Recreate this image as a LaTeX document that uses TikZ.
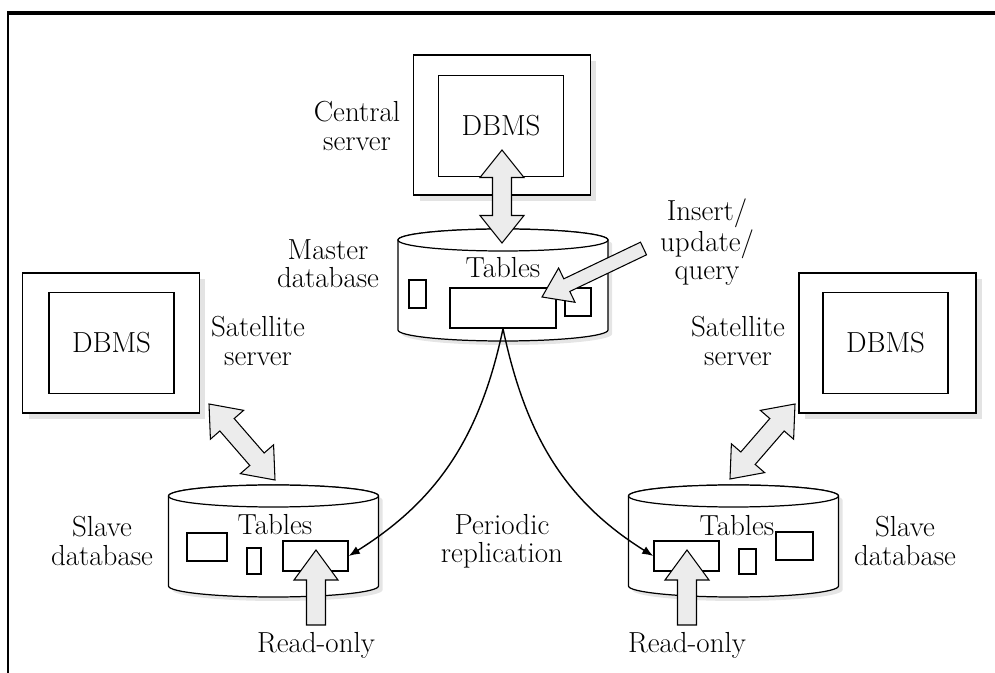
\documentclass[tikz,border=0pt]{standalone}
\usetikzlibrary{calc,arrows.meta,shadows}

\tikzset{
  srvbox/.style={draw, line width=1pt, fill=white, inner sep=0pt,
    minimum width=3.54cm, minimum height=2.80cm,
    drop shadow={shadow xshift=0.12cm, shadow yshift=-0.12cm, fill=gray!22, opacity=1}},
  dbmsbox/.style={draw, line width=1pt, fill=white, inner sep=0pt,
    minimum width=2.50cm, minimum height=2.02cm},
  tbl/.style={draw, line width=0.9pt, fill=white, inner sep=0pt},
  lbl/.style={align=center, inner sep=0pt},
  blockarrow/.style={draw=black, fill=gray!15, line width=0.6pt, line join=miter},
  cylline/.style={draw=black, line width=0.7pt, fill=white},
}

% database drum, top face centre at (#1,#2)
\newcommand{\dbcyl}[2]{%
  \begin{scope}[shift={(#1,#2)}]
    \fill [gray!20, shift={(4,-4)}] (-105,0) -- (-105,-90)
      arc[start angle=180, end angle=360, x radius=105, y radius=11] -- (105,0)
      arc[start angle=0, end angle=180, x radius=105, y radius=11] -- cycle;
    \draw [cylline] (-105,0) -- (-105,-90)
      arc[start angle=180, end angle=360, x radius=105, y radius=11] -- (105,0)
      arc[start angle=0, end angle=180, x radius=105, y radius=11] -- cycle;
    \draw [cylline] (0,0) ellipse[x radius=105, y radius=11];
  \end{scope}}

% fat arrow with two heads: tips #1 #2, head length #3, head half width #4, shaft half width #5
\newcommand{\dblarrow}[5]{%
  \filldraw [blockarrow] (#1) -- ($(#1)!#3!(#2)!#4!90:(#2)$) -- ($(#1)!#3!(#2)!#5!90:(#2)$)
    -- ($(#2)!#3!(#1)!#5!-90:(#1)$) -- ($(#2)!#3!(#1)!#4!-90:(#1)$) -- (#2)
    -- ($(#2)!#3!(#1)!#4!90:(#1)$) -- ($(#2)!#3!(#1)!#5!90:(#1)$)
    -- ($(#1)!#3!(#2)!#5!-90:(#2)$) -- ($(#1)!#3!(#2)!#4!-90:(#2)$) -- cycle;}

% fat arrow with one head: tail #1, tip #2
\newcommand{\sglarrow}[5]{%
  \filldraw [blockarrow] (#2) -- ($(#2)!#3!(#1)!#4!-90:(#1)$) -- ($(#2)!#3!(#1)!#5!-90:(#1)$)
    -- ($(#1)!#5!90:(#2)$) -- ($(#1)!#5!-90:(#2)$)
    -- ($(#2)!#3!(#1)!#5!90:(#1)$) -- ($(#2)!#3!(#1)!#4!90:(#1)$) -- cycle;}

\begin{document}
\begin{tikzpicture}[x=0.02cm, y=0.02cm]
\tikzset{ >={Latex[length=0.22cm,width=0.17cm]}, every node/.style={font=\fontsize{16.5}{16}\selectfont} }

\useasboundingbox (0,0) rectangle (995,673);

%\draw [lightgray, dashed] (0,0) grid[step=50] (995,673);

\draw [line width=2pt] (7,660) -- (995,660);
\draw [line width=1.6pt] (8,0) -- (8,661);

% databases
\dbcyl{503}{433}
\dbcyl{273.5}{177}
\dbcyl{733.5}{177}

\node [tbl, minimum width=0.34cm, minimum height=0.56cm] (mA) at (417.5,379) {};
\node [tbl, minimum width=2.12cm, minimum height=0.80cm] (mB) at (503,365) {};
\node [tbl, minimum width=0.52cm, minimum height=0.56cm] (mC) at (578,371) {};
\node (mtables) at (503,405) {Tables};

\node [tbl, minimum width=0.80cm, minimum height=0.56cm] (lA) at (207,126) {};
\node [tbl, minimum width=0.28cm, minimum height=0.52cm] (lB) at (254,112) {};
\node [tbl, minimum width=1.30cm, minimum height=0.60cm] (lC) at (315.5,117) {};
\node (ltables) at (275,148) {Tables};

\node [tbl, minimum width=1.30cm, minimum height=0.60cm] (rC) at (686.5,117) {};
\node [tbl, minimum width=0.34cm, minimum height=0.50cm] (rB) at (747.5,111.5) {};
\node [tbl, minimum width=0.74cm, minimum height=0.56cm] (rA) at (794.5,127) {};
\node (rtables) at (737,147) {Tables};

% servers
\node [srvbox] (centralsrv) at (502,548) {};
\node [dbmsbox] (centraldbms) at (501,547) {DBMS};
\node [srvbox] (leftsrv) at (111,330) {};
\node [dbmsbox] (leftdbms) at (111.5,330) {DBMS};
\node [srvbox] (rightsrv) at (887.5,330) {};
\node [dbmsbox] (rightdbms) at (885.5,330) {DBMS};

% labels
\node [lbl] (centrallbl) at (357,547) {Central\\server};
\node [lbl] (masterlbl) at (328,409) {Master\\database};
\node [lbl] (insertlbl) at (707,431) {Insert/\\update/\\query};
\node [lbl] (leftsatlbl) at (258,332) {Satellite\\server};
\node [lbl] (rightsatlbl) at (738,332) {Satellite\\server};
\node [lbl] (leftslavelbl) at (102,132) {Slave\\database};
\node [lbl] (rightslavelbl) at (905,132) {Slave\\database};
\node [lbl] (repllbl) at (502,132) {Periodic\\replication};
\node (leftro) at (316,28) {Read-only};
\node (rightro) at (687,28) {Read-only};

% replication
\draw [->, line width=0.8pt] (mB.south) to[out=-102, in=32] (lC.east);
\draw [->, line width=0.8pt] (mB.south) to[out=-78, in=148] (rC.west);

% fat arrows
\coordinate (cA) at (502,523);
\coordinate (cB) at (502,430);
\coordinate (lsA) at (209,269);
\coordinate (lsB) at (275,193);
\coordinate (rsA) at (795,269);
\coordinate (rsB) at (730,194);
\coordinate (insT) at (643.5,424.5);
\coordinate (insH) at (542,376);
\coordinate (lroT) at (316,48);
\coordinate (lroH) at (316,123);
\coordinate (rroT) at (687,48);
\coordinate (rroH) at (687,123);

\dblarrow{cA}{cB}{0.55cm}{0.44cm}{0.19cm}
\dblarrow{lsA}{lsB}{0.55cm}{0.44cm}{0.19cm}
\dblarrow{rsA}{rsB}{0.55cm}{0.44cm}{0.19cm}
\sglarrow{insT}{insH}{0.55cm}{0.38cm}{0.14cm}
\sglarrow{lroT}{lroH}{0.6cm}{0.44cm}{0.19cm}
\sglarrow{rroT}{rroH}{0.6cm}{0.44cm}{0.19cm}

\end{tikzpicture}
\end{document}
